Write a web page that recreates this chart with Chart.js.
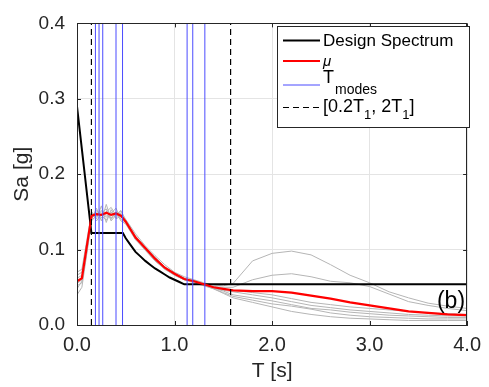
<!DOCTYPE html>
<html>
<head>
<meta charset="utf-8">
<script src="https://cdn.jsdelivr.net/npm/chart.js@4.4.1/dist/chart.umd.min.js"></script>
<style>
  html, body { margin: 0; padding: 0; background: #fff; }
  #wrap { width: 489px; height: 387px; }
</style>
</head>
<body>
<div id="wrap"><canvas id="spectrumChart" width="489" height="387"></canvas></div>
<script>
// periods (s) for the record spectra and the mean
var periods = [0, 0.05, 0.1, 0.15, 0.2, 0.25, 0.3, 0.35, 0.4, 0.45, 0.5, 0.6, 0.7, 0.8, 0.9, 1.0, 1.1, 1.2, 1.3, 1.4, 1.5, 1.6, 1.8, 2.0, 2.2, 2.4, 2.6, 2.8, 3.0, 3.2, 3.4, 3.6, 3.8, 4.0];

// individual record spectra (gray)
var recA = [0.070, 0.074, 0.112, 0.150, 0.141, 0.158, 0.136, 0.153, 0.142, 0.151, 0.140, 0.121, 0.105, 0.092, 0.080, 0.070, 0.064, 0.060, 0.056, 0.053, 0.052, 0.055, 0.085, 0.095, 0.098, 0.093, 0.080, 0.066, 0.056, 0.044, 0.036, 0.029, 0.025, 0.022];
var recB = [0.048, 0.058, 0.098, 0.140, 0.155, 0.138, 0.160, 0.140, 0.150, 0.138, 0.134, 0.113, 0.100, 0.086, 0.074, 0.067, 0.060, 0.058, 0.054, 0.051, 0.050, 0.050, 0.060, 0.066, 0.068, 0.064, 0.058, 0.056, 0.051, 0.041, 0.031, 0.026, 0.022, 0.019];
var recC = [0.062, 0.066, 0.104, 0.146, 0.150, 0.142, 0.150, 0.156, 0.145, 0.148, 0.139, 0.118, 0.103, 0.090, 0.077, 0.069, 0.062, 0.059, 0.055, 0.050, 0.048, 0.046, 0.043, 0.040, 0.035, 0.030, 0.027, 0.024, 0.022, 0.020, 0.018, 0.016, 0.015, 0.014];
var recD = [0.040, 0.050, 0.094, 0.138, 0.146, 0.152, 0.143, 0.148, 0.155, 0.140, 0.136, 0.115, 0.100, 0.085, 0.075, 0.066, 0.060, 0.057, 0.053, 0.049, 0.046, 0.044, 0.040, 0.036, 0.031, 0.026, 0.023, 0.020, 0.018, 0.016, 0.014, 0.013, 0.012, 0.012];
var recE = [0.055, 0.060, 0.100, 0.150, 0.138, 0.148, 0.154, 0.138, 0.146, 0.152, 0.137, 0.117, 0.101, 0.087, 0.076, 0.068, 0.061, 0.057, 0.054, 0.049, 0.045, 0.040, 0.036, 0.032, 0.027, 0.022, 0.020, 0.017, 0.015, 0.013, 0.012, 0.011, 0.010, 0.010];
var recF = [0.066, 0.070, 0.108, 0.142, 0.152, 0.145, 0.139, 0.150, 0.141, 0.144, 0.136, 0.114, 0.099, 0.085, 0.074, 0.066, 0.060, 0.056, 0.052, 0.048, 0.043, 0.038, 0.033, 0.028, 0.025, 0.021, 0.016, 0.013, 0.011, 0.010, 0.009, 0.008, 0.008, 0.008];
var recG = [0.052, 0.056, 0.096, 0.144, 0.144, 0.150, 0.146, 0.142, 0.150, 0.146, 0.138, 0.116, 0.102, 0.088, 0.077, 0.068, 0.061, 0.058, 0.053, 0.048, 0.042, 0.036, 0.030, 0.024, 0.018, 0.014, 0.011, 0.009, 0.008, 0.007, 0.006, 0.006, 0.006, 0.006];

// mean spectrum (red)
var meanSa = [0.058, 0.062, 0.104, 0.145, 0.147, 0.146, 0.149, 0.146, 0.148, 0.145, 0.137, 0.116, 0.102, 0.088, 0.076, 0.068, 0.061, 0.058, 0.054, 0.050, 0.048, 0.046, 0.045, 0.045, 0.043, 0.039, 0.035, 0.030, 0.026, 0.022, 0.018, 0.016, 0.014, 0.013];

// design spectrum (black)
var designT = [0, 0.148, 0.47, 0.5, 0.55, 0.6, 0.65, 0.7, 0.75, 0.8, 0.85, 0.9, 0.95, 1.0, 1.05, 1.1, 4.0];
var designSa = [0.290, 0.122, 0.122, 0.115, 0.106, 0.097, 0.091, 0.085, 0.080, 0.075, 0.071, 0.067, 0.063, 0.060, 0.057, 0.054, 0.054];

// modal periods and the [0.2T1, 2T1] range
var modePeriods = [0.189, 0.226, 0.264, 0.40, 0.467, 1.129, 1.187, 1.311];
var rangeBounds = [0.148, 1.575];

var xTicks = [0, 1, 2, 3, 4];
var yTicks = [0, 0.1, 0.2, 0.3, 0.4];

var FONT = "'Liberation Sans', Arial, Helvetica, sans-serif";
var INK = '#262626';
var MODE_BLUE = '#4b4bff';

function pairs(xs, ys) {
    return xs.map(function (x, i) { return { x: x, y: ys[i] }; });
}
function vline(t) {
    return [{ x: t, y: yTicks[0] }, { x: t, y: yTicks[yTicks.length - 1] }];
}

var datasets = [];
[recA, recB, recC, recD, recE, recF, recG].forEach(function (rec) {
    datasets.push({ data: pairs(periods, rec), borderColor: '#b5b5b5', borderWidth: 1, order: 10 });
});
datasets.push({ label: 'Design Spectrum', data: pairs(designT, designSa), borderColor: '#000000', borderWidth: 2, order: 5 });
datasets.push({ label: 'mu', data: pairs(periods, meanSa), borderColor: '#ff0000', borderWidth: 2.2, order: 4 });
modePeriods.forEach(function (t) {
    datasets.push({ label: 'modes', data: vline(t), borderColor: MODE_BLUE, borderWidth: 1, order: 3 });
});
rangeBounds.forEach(function (t) {
    datasets.push({ label: 'range', data: vline(t), borderColor: '#000000', borderWidth: 1.2, borderDash: [6, 4], order: 2 });
});

// MATLAB-style box, inner ticks, legend and panel tag
var axesExtras = {
    id: 'axesExtras',
    afterDraw: function (chart) {
        var ctx = chart.ctx, a = chart.chartArea;
        var xs = chart.scales.x, ys = chart.scales.y;
        ctx.save();
        ctx.strokeStyle = INK;
        ctx.lineWidth = 1;
        ctx.strokeRect(Math.round(a.left) + 0.5, Math.round(a.top) + 0.5, Math.round(a.right - a.left) - 1, Math.round(a.bottom - a.top));
        ctx.beginPath();
        xTicks.forEach(function (v) {
            var px = Math.round(xs.getPixelForValue(v)) + 0.5;
            ctx.moveTo(px, a.bottom); ctx.lineTo(px, a.bottom - 4);
            ctx.moveTo(px, a.top); ctx.lineTo(px, a.top + 4);
        });
        yTicks.forEach(function (v) {
            var py = Math.round(ys.getPixelForValue(v)) + 0.5;
            ctx.moveTo(a.left, py); ctx.lineTo(a.left + 4, py);
            ctx.moveTo(a.right, py); ctx.lineTo(a.right - 4, py);
        });
        ctx.stroke();

        // legend
        var lx = 277.5, ly = 26.5, lw = 192, lh = 101;
        ctx.fillStyle = '#ffffff';
        ctx.fillRect(lx, ly, lw, lh);
        ctx.strokeStyle = INK;
        ctx.strokeRect(lx, ly, lw, lh);
        var sx0 = 283, sx1 = 320, tx = 323;
        function sample(y, color, width, dash) {
            ctx.beginPath();
            ctx.strokeStyle = color; ctx.lineWidth = width; ctx.setLineDash(dash || []);
            ctx.moveTo(sx0, y); ctx.lineTo(sx1, y); ctx.stroke();
            ctx.setLineDash([]);
        }
        ctx.fillStyle = '#000000';
        ctx.textBaseline = 'middle';
        ctx.textAlign = 'left';
        sample(40.5, '#000000', 2);
        ctx.font = '17px ' + FONT;
        ctx.fillText('Design Spectrum', tx, 41);
        sample(61, '#ff0000', 2);
        ctx.font = 'italic 15px ' + FONT;
        ctx.fillText('\u03bc', tx, 62);
        sample(85, MODE_BLUE, 1);
        ctx.font = '18px ' + FONT;
        ctx.fillText('T', tx, 78);
        var w = ctx.measureText('T').width;
        ctx.font = '14px ' + FONT;
        ctx.fillText('modes', tx + w + 1, 90);
        sample(107.5, '#000000', 1.2, [6, 4]);
        var cx = tx;
        [['[0.2T', 18, 107], ['1', 13, 115], [', 2T', 18, 107], ['1', 13, 115], [']', 18, 107]].forEach(function (p) {
            ctx.font = p[1] + 'px ' + FONT;
            ctx.fillText(p[0], cx, p[2]);
            cx += ctx.measureText(p[0]).width;
        });

        // panel tag
        ctx.font = '23px ' + FONT;
        ctx.fillStyle = '#000000';
        ctx.textAlign = 'center';
        ctx.fillText('(b)', 451, 302);
        ctx.restore();
    }
};

var ctx = document.getElementById('spectrumChart').getContext('2d');
var myChart = new Chart(ctx, {
    type: 'line',
    data: { datasets: datasets },
    options: {
        responsive: false,
        animation: false,
        layout: { padding: { top: 15, right: 17, left: 0, bottom: 0 } },
        elements: { point: { radius: 0 }, line: { tension: 0 } },
        plugins: { legend: { display: false }, tooltip: { enabled: false } },
        scales: {
            x: {
                type: 'linear', min: 0, max: 4,
                afterFit: function (s) { s.height = 62; },
                afterBuildTicks: function (s) { s.ticks = xTicks.map(function (v) { return { value: v }; }); },
                ticks: { callback: function (v) { return v.toFixed(1); }, color: INK, font: { family: FONT, size: 20 }, padding: 8 },
                grid: { color: '#e4e4e4', drawTicks: false },
                border: { color: INK },
                title: { display: true, text: 'T [s]', color: INK, font: { family: FONT, size: 21 }, padding: { top: 0, bottom: 3 } }
            },
            y: {
                min: 0, max: 0.4,
                afterFit: function (s) { s.width = 77; },
                afterBuildTicks: function (s) { s.ticks = yTicks.map(function (v) { return { value: v }; }); },
                ticks: { callback: function (v) { return v.toFixed(1); }, color: INK, font: { family: FONT, size: 19 }, padding: 12 },
                grid: { color: '#e4e4e4', drawTicks: false },
                border: { color: INK },
                title: { display: true, text: 'Sa [g]', color: INK, font: { family: FONT, size: 21 }, padding: { top: 10, bottom: 0 } }
            }
        }
    },
    plugins: [axesExtras]
});
</script>
</body>
</html>
